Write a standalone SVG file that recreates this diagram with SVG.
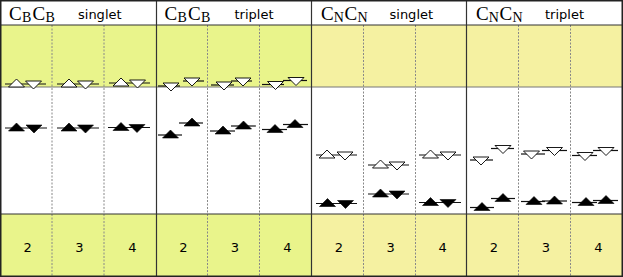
<svg xmlns="http://www.w3.org/2000/svg" xmlns:xlink="http://www.w3.org/1999/xlink" width="623" height="277" viewBox="0 0 623 277">
<style>
.bandB{fill:#e9f48b}
.bandN{fill:#f5f1a1}
.sep{stroke:#333;stroke-width:1.2}
.thin{stroke:#777;stroke-width:1}
.dot{stroke:#888;stroke-width:1;stroke-dasharray:2,1.5}
.lv{stroke:#111;stroke-width:1.2}
.w{fill:#fff;stroke:#000;stroke-width:0.9}
.b{fill:#000;stroke:#000;stroke-width:0.6}
.big{font-family:"Liberation Serif",serif;font-size:19px;fill:#000}
.sub{font-family:"Liberation Serif",serif;font-size:14px;fill:#000}
.lab{font-family:"DejaVu Sans",sans-serif;font-size:13px;fill:#000}
.num{font-family:"DejaVu Sans",sans-serif;font-size:13px;fill:#000;text-anchor:middle}
</style>
<defs>
<path id="up" d="M-8,3 L8,3 L0,-5 Z"/>
<path id="dn" d="M-8,-3 L8,-3 L0,5 Z"/>
</defs>
<rect x="0" y="0" width="623" height="277" fill="#fff"/>
<g id="backgrounds">
<rect class="bandB" x="0" y="25" width="311.5" height="62"/>
<rect class="bandN" x="311.5" y="25" width="311.5" height="62"/>
<rect class="bandB" x="0" y="214" width="311.5" height="63"/>
<rect class="bandN" x="311.5" y="214" width="311.5" height="63"/>
</g>
<g id="grid">
<line class="dot" x1="52" y1="25" x2="52" y2="277"/>
<line class="dot" x1="104" y1="25" x2="104" y2="277"/>
<line class="dot" x1="207.5" y1="25" x2="207.5" y2="277"/>
<line class="dot" x1="259.5" y1="25" x2="259.5" y2="277"/>
<line class="dot" x1="363.5" y1="25" x2="363.5" y2="277"/>
<line class="dot" x1="415.5" y1="25" x2="415.5" y2="277"/>
<line class="dot" x1="518.5" y1="25" x2="518.5" y2="277"/>
<line class="dot" x1="570.5" y1="25" x2="570.5" y2="277"/>
<line class="thin" x1="0" y1="87" x2="623" y2="87"/>
<line class="sep" x1="0" y1="25" x2="623" y2="25"/>
<line class="sep" x1="0" y1="214" x2="623" y2="214"/>
<line class="sep" x1="156.5" y1="0" x2="156.5" y2="277"/>
<line class="sep" x1="311.5" y1="0" x2="311.5" y2="277"/>
<line class="sep" x1="466.5" y1="0" x2="466.5" y2="277"/>
<rect x="0.75" y="0.75" width="621.5" height="275.5" fill="none" stroke="#222" stroke-width="1.5"/>
</g>
<g id="headers">
<text class="big" x="9" y="19.5">C</text><text class="sub" x="22" y="21.5">B</text><text class="big" x="32.5" y="19.5">C</text><text class="sub" x="45.5" y="21.5">B</text>
<text class="lab" x="78" y="18.5">singlet</text>
<text class="big" x="164.5" y="19.5">C</text><text class="sub" x="177.5" y="21.5">B</text><text class="big" x="188" y="19.5">C</text><text class="sub" x="201" y="21.5">B</text>
<text class="lab" x="234.5" y="18.5">triplet</text>
<text class="big" x="321" y="19.5">C</text><text class="sub" x="333.8" y="21.5">N</text><text class="big" x="344.5" y="19.5">C</text><text class="sub" x="357.4" y="21.5">N</text>
<text class="lab" x="389.5" y="18.5">singlet</text>
<text class="big" x="476" y="19.5">C</text><text class="sub" x="488.8" y="21.5">N</text><text class="big" x="499.5" y="19.5">C</text><text class="sub" x="512.4" y="21.5">N</text>
<text class="lab" x="545" y="18.5">triplet</text>
</g>
<g id="levels-CBCB-singlet">
<line class="lv" x1="5" y1="84" x2="46" y2="84"/><use href="#up" class="w" x="16.5" y="84"/><use href="#dn" class="w" x="33.5" y="84"/>
<line class="lv" x1="57" y1="84" x2="99" y2="84"/><use href="#up" class="w" x="69" y="84"/><use href="#dn" class="w" x="85.5" y="84"/>
<line class="lv" x1="109" y1="83" x2="150" y2="83"/><use href="#up" class="w" x="121" y="83"/><use href="#dn" class="w" x="137.5" y="83"/>
<line class="lv" x1="5" y1="128" x2="47" y2="128"/><use href="#up" class="b" x="16.5" y="128"/><use href="#dn" class="b" x="34" y="128"/>
<line class="lv" x1="57" y1="128" x2="99" y2="128"/><use href="#up" class="b" x="69" y="128"/><use href="#dn" class="b" x="85.5" y="128"/>
<line class="lv" x1="108" y1="127.5" x2="150" y2="127.5"/><use href="#up" class="b" x="121" y="127.5"/><use href="#dn" class="b" x="137" y="127.5"/>
</g>
<g id="levels-CBCB-triplet">
<line class="lv" x1="158" y1="86" x2="180" y2="86"/><use href="#dn" class="w" x="171" y="86"/>
<line class="lv" x1="183" y1="81" x2="204" y2="81"/><use href="#dn" class="w" x="192" y="81"/>
<line class="lv" x1="211" y1="85" x2="234" y2="85"/><use href="#dn" class="w" x="224" y="85"/>
<line class="lv" x1="231" y1="81" x2="252" y2="81"/><use href="#dn" class="w" x="243" y="81"/>
<line class="lv" x1="262" y1="84.5" x2="284" y2="84.5"/><use href="#dn" class="w" x="275.5" y="84.5"/>
<line class="lv" x1="283" y1="80.5" x2="307" y2="80.5"/><use href="#dn" class="w" x="296" y="80.5"/>
<line class="lv" x1="158" y1="135" x2="182" y2="135"/><use href="#up" class="b" x="170.5" y="135"/>
<line class="lv" x1="179" y1="123" x2="203" y2="123"/><use href="#up" class="b" x="192" y="123"/>
<line class="lv" x1="210" y1="131" x2="235" y2="131"/><use href="#up" class="b" x="223" y="131"/>
<line class="lv" x1="231" y1="126" x2="256" y2="126"/><use href="#up" class="b" x="243.5" y="126"/>
<line class="lv" x1="262" y1="129.5" x2="287" y2="129.5"/><use href="#up" class="b" x="275" y="129.5"/>
<line class="lv" x1="283" y1="124.5" x2="308" y2="124.5"/><use href="#up" class="b" x="295" y="124.5"/>
</g>
<g id="levels-CNCN-singlet">
<line class="lv" x1="316" y1="155" x2="357" y2="155"/><use href="#up" class="w" x="327" y="155"/><use href="#dn" class="w" x="345" y="155"/>
<line class="lv" x1="368" y1="165" x2="409" y2="165"/><use href="#up" class="w" x="380.5" y="165"/><use href="#dn" class="w" x="397" y="165"/>
<line class="lv" x1="419" y1="155" x2="461" y2="155"/><use href="#up" class="w" x="430.5" y="155"/><use href="#dn" class="w" x="448" y="155"/>
<line class="lv" x1="316" y1="203.5" x2="357" y2="203.5"/><use href="#up" class="b" x="327.5" y="203.5"/><use href="#dn" class="b" x="345.5" y="203.5"/>
<line class="lv" x1="368" y1="194" x2="409" y2="194"/><use href="#up" class="b" x="380.5" y="194"/><use href="#dn" class="b" x="397" y="194"/>
<line class="lv" x1="419" y1="202.5" x2="461" y2="202.5"/><use href="#up" class="b" x="430.5" y="202.5"/><use href="#dn" class="b" x="448" y="202.5"/>
</g>
<g id="levels-CNCN-triplet">
<line class="lv" x1="470" y1="160" x2="493" y2="160"/><use href="#dn" class="w" x="481" y="160"/>
<line class="lv" x1="491" y1="148.5" x2="514" y2="148.5"/><use href="#dn" class="w" x="503" y="148.5"/>
<line class="lv" x1="521" y1="154" x2="545" y2="154"/><use href="#dn" class="w" x="531.5" y="154"/>
<line class="lv" x1="542" y1="150.5" x2="567" y2="150.5"/><use href="#dn" class="w" x="554.5" y="150.5"/>
<line class="lv" x1="572" y1="155.5" x2="597" y2="155.5"/><use href="#dn" class="w" x="585" y="155.5"/>
<line class="lv" x1="593" y1="150.5" x2="618" y2="150.5"/><use href="#dn" class="w" x="606" y="150.5"/>
<line class="lv" x1="470" y1="207.5" x2="494" y2="207.5"/><use href="#up" class="b" x="482" y="207.5"/>
<line class="lv" x1="491" y1="198.5" x2="515" y2="198.5"/><use href="#up" class="b" x="503" y="198.5"/>
<line class="lv" x1="521" y1="201.5" x2="545" y2="201.5"/><use href="#up" class="b" x="534" y="201.5"/>
<line class="lv" x1="542" y1="201" x2="567" y2="201"/><use href="#up" class="b" x="554.5" y="201"/>
<line class="lv" x1="572" y1="202.5" x2="597" y2="202.5"/><use href="#up" class="b" x="586" y="202.5"/>
<line class="lv" x1="593" y1="200.5" x2="618" y2="200.5"/><use href="#up" class="b" x="606" y="200.5"/>
</g>
<g id="labels">
<text class="num" x="27.7" y="252">2</text>
<text class="num" x="79.3" y="252">3</text>
<text class="num" x="132.3" y="252">4</text>
<text class="num" x="183.3" y="252">2</text>
<text class="num" x="235" y="252">3</text>
<text class="num" x="287.3" y="252">4</text>
<text class="num" x="339" y="252">2</text>
<text class="num" x="390.7" y="252">3</text>
<text class="num" x="442.7" y="252">4</text>
<text class="num" x="494" y="252">2</text>
<text class="num" x="546" y="252">3</text>
<text class="num" x="598.3" y="252">4</text>
</g>
</svg>
